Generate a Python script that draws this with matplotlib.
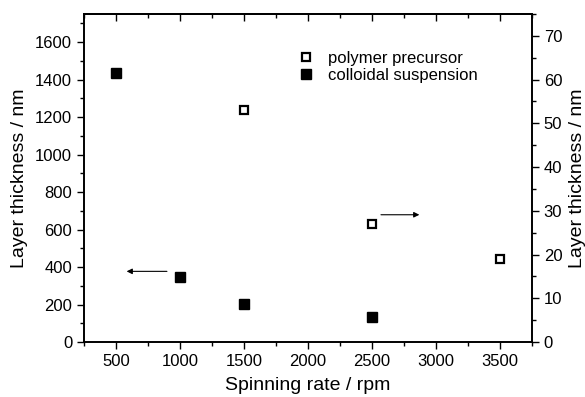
import matplotlib
matplotlib.use("Agg")
import matplotlib.pyplot as plt
from matplotlib.ticker import MultipleLocator

plt.rcParams['font.family'] = ['Liberation Sans', 'DejaVu Sans']

# colloidal suspension (left axis, nm)
rate_coll = [500, 1000, 1500, 2500]
thick_coll = [1433, 345, 203, 132]

# polymer precursor (right axis, nm)
rate_poly = [1500, 2500, 3500]
thick_poly = [53.1, 27.0, 19.0]

fig = plt.figure(figsize=(5.85, 3.97), dpi=100)
ax = fig.add_axes([0.1436, 0.1385, 0.7658, 0.8262])
ax2 = ax.twinx()

h2, = ax2.plot(rate_poly, thick_poly, 's', mfc='white', mec='black', mew=1.6,
               ms=6.2, label='polymer precursor')
h1, = ax.plot(rate_coll, thick_coll, 's', color='black', ms=6.5,
              label='colloidal suspension')

ax.set_xlim(250, 3750)
ax.set_ylim(0, 1750)
ax2.set_ylim(0, 75)

ax.xaxis.set_major_locator(MultipleLocator(500))
ax.xaxis.set_minor_locator(MultipleLocator(250))
ax.yaxis.set_major_locator(MultipleLocator(200))
ax.yaxis.set_minor_locator(MultipleLocator(100))
ax2.yaxis.set_major_locator(MultipleLocator(10))
ax2.yaxis.set_minor_locator(MultipleLocator(5))

ax.tick_params(axis='both', which='major', labelsize=12, length=5, width=1, direction='out')
ax.tick_params(axis='both', which='minor', length=3, width=1, direction='out')
ax2.tick_params(axis='y', which='major', labelsize=12, length=5, width=1, direction='out')
ax2.tick_params(axis='y', which='minor', length=3, width=1, direction='out')

# top ticks point inward
sec = ax.secondary_xaxis('top')
sec.xaxis.set_major_locator(MultipleLocator(500))
sec.xaxis.set_minor_locator(MultipleLocator(250))
sec.tick_params(which='major', direction='in', length=5, width=1, labeltop=False)
sec.tick_params(which='minor', direction='in', length=3, width=1)
sec.spines['top'].set_linewidth(1.2)

for a in (ax, ax2):
    for s in a.spines.values():
        s.set_linewidth(1.2)

ax.set_xlabel('Spinning rate / rpm', fontsize=14, labelpad=6)
ax.set_ylabel('Layer thickness / nm', fontsize=14, labelpad=5)
ax2.set_ylabel('Layer thickness / nm', fontsize=14, labelpad=5)

# arrows pointing to the matching axis
ax.annotate('', xy=(583, 377), xytext=(898, 377),
            arrowprops=dict(arrowstyle='-|>', color='black', lw=0.8,
                            mutation_scale=8, shrinkA=0, shrinkB=0))
ax2.annotate('', xy=(2870, 29.1), xytext=(2570, 29.1),
             arrowprops=dict(arrowstyle='-|>', color='black', lw=0.8,
                             mutation_scale=8, shrinkA=0, shrinkB=0))

ax.legend(handles=[h2, h1], loc='upper left', bbox_to_anchor=(0.462, 0.908),
          frameon=False, fontsize=12, handlelength=1.0, handletextpad=0.8,
          labelspacing=0.1, borderaxespad=0)

fig.savefig('out.png', dpi=100)
